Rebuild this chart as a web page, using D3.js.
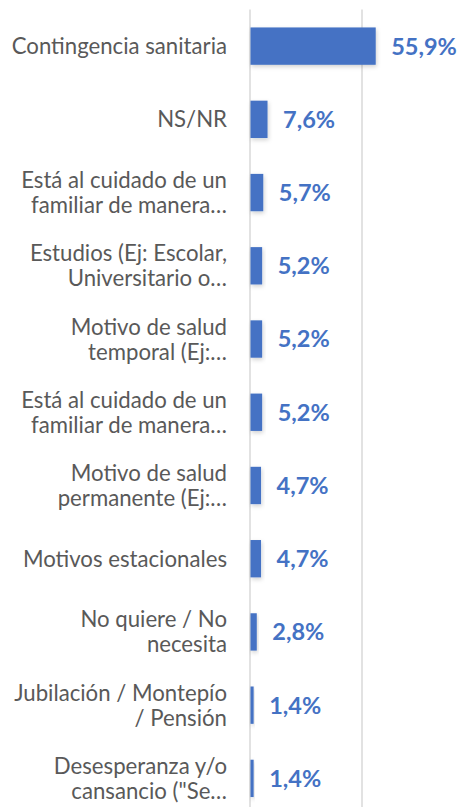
<!DOCTYPE html>
<html>
<head>
<meta charset="utf-8">
<script src="https://cdn.jsdelivr.net/npm/d3@7"></script>
<style>
  body { margin: 0; background: #fff; }
  .lbl { font-family: Lato, "Open Sans", sans-serif; font-size: 22.2px; fill: #595959; }
  .val { font-family: Lato, "Open Sans", sans-serif; font-size: 23.5px; font-weight: bold; fill: #4472C4; }
</style>
</head>
<body>
<script>
//categories, two text lines each (Excel wraps and truncates)
var categories = [
    ["Contingencia sanitaria"],
    ["NS/NR"],
    ["Está al cuidado de un", "familiar de manera…"],
    ["Estudios (Ej: Escolar,", "Universitario o…"],
    ["Motivo de salud", "temporal (Ej:…"],
    ["Está al cuidado de un", "familiar de manera…"],
    ["Motivo de salud", "permanente (Ej:…"],
    ["Motivos estacionales"],
    ["No quiere / No", "necesita"],
    ["Jubilación / Montepío", "/ Pensión"],
    ["Desesperanza y/o", "cansancio (\"Se…"]
];
var values = [55.9, 7.6, 5.7, 5.2, 5.2, 5.2, 4.7, 4.7, 2.8, 1.4, 1.4];
var gridTicks = [0, 50, 100];

var width = 464,
    height = 807;

var svg = d3.select("body")
    .append("svg")
    .attr("width", width)
    .attr("height", height);

//shadow like the Excel bar effect
var defs = svg.append("defs");
var f = defs.append("filter").attr("id", "shadow")
    .attr("x", "-20%").attr("y", "-20%").attr("width", "150%").attr("height", "150%");
f.append("feDropShadow")
    .attr("dx", 1).attr("dy", 2).attr("stdDeviation", 2)
    .attr("flood-color", "#000").attr("flood-opacity", 0.18);

var x = d3.scaleLinear()
    .domain([0, 100])
    .range([250, 474]);

var y = d3.scaleBand()
    .domain(d3.range(categories.length))
    .range([9.5, 815])
    .paddingInner(0.49)
    .paddingOuter(0.245);

//gridlines
svg.selectAll(".grid")
    .data(gridTicks)
    .enter()
    .append("line")
    .attr("class", "grid")
    .attr("x1", function(d){ return x(d); })
    .attr("x2", function(d){ return x(d); })
    .attr("y1", 9.5)
    .attr("y2", height)
    .attr("stroke", "#d9d9d9")
    .attr("stroke-width", 1.5);

//bars
svg.selectAll(".bar")
    .data(values)
    .enter()
    .append("rect")
    .attr("class", "bar")
    .attr("x", x(0) + 0.5)
    .attr("y", function(d, i){ return y(i); })
    .attr("width", function(d){ return x(d) - x(0); })
    .attr("height", y.bandwidth())
    .attr("fill", "#4472C4")
    .attr("filter", "url(#shadow)");

//value labels
svg.selectAll(".val")
    .data(values)
    .enter()
    .append("text")
    .attr("class", "val")
    .attr("x", function(d){ return x(d) + 16; })
    .attr("y", function(d, i){ return y(i) + y.bandwidth() / 2; })
    .attr("dy", "0.36em")
    .text(function(d){ return d.toFixed(1).replace(".", ",") + "%"; });

//category labels
var lineH = 25;
var lbls = svg.selectAll(".lbl")
    .data(categories)
    .enter()
    .append("text")
    .attr("class", "lbl")
    .attr("text-anchor", "end")
    .attr("x", 227)
    .attr("y", function(d, i){ return y(i) + y.bandwidth() / 2 - (d.length - 1) * lineH / 2; });

lbls.selectAll("tspan")
    .data(function(d){ return d; })
    .enter()
    .append("tspan")
    .attr("x", 227)
    .attr("dy", function(d, j){ return j === 0 ? "0.36em" : lineH; })
    .text(function(d){ return d; });
</script>
</body>
</html>
